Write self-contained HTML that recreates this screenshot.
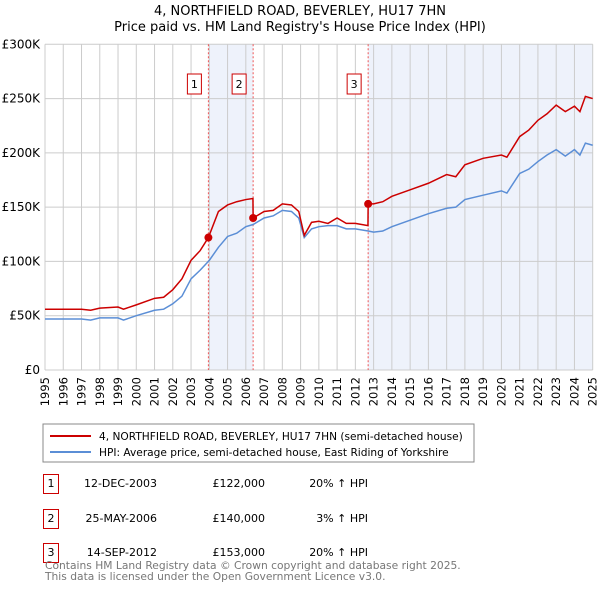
<!DOCTYPE html>
<html><head><meta charset="utf-8"><style>
body{margin:0;background:#fff;font-family:"Liberation Sans","DejaVu Sans",sans-serif;}
#wrap{position:relative;width:600px;height:590px;overflow:hidden;}
svg text{font-family:"DejaVu Sans","Liberation Sans",sans-serif;}
.row{position:absolute;font-family:"DejaVu Sans","Liberation Sans",sans-serif;font-size:11px;color:#000;white-space:nowrap;}
</style></head><body><div id="wrap">
<svg id="chart" width="600" height="590">
<text x="300" y="15" text-anchor="middle" font-size="13">4, NORTHFIELD ROAD, BEVERLEY, HU17 7HN</text>
<text x="300" y="31" text-anchor="middle" font-size="13">Price paid vs. HM Land Registry's House Price Index (HPI)</text>
<g id="g"></g>
<rect x="43" y="424" width="431" height="38" fill="#fff" stroke="#888"/>
<line x1="50" y1="436" x2="91" y2="436" stroke="#cc0000" stroke-width="2"/>
<text x="99" y="440" font-size="10.6">4, NORTHFIELD ROAD, BEVERLEY, HU17 7HN (semi-detached house)</text>
<line x1="50" y1="452" x2="91" y2="452" stroke="#5b8ed6" stroke-width="2"/>
<text x="99" y="456" font-size="10.6">HPI: Average price, semi-detached house, East Riding of Yorkshire</text>
</svg>
<div id="tbl"></div>
<div class="row" style="left:45px;top:560px;color:#777;line-height:11px;font-size:10.7px">Contains HM Land Registry data © Crown copyright and database right 2025.<br>This data is licensed under the Open Government Licence v3.0.</div>
</div>
<script>
const hpiYears=[1995,1996,1997,1997.5,1998,1999,1999.3,2000,2001,2001.5,2002,2002.5,2003,2003.5,2004,2004.5,2005,2005.5,2006,2006.4,2007,2007.5,2008,2008.5,2008.9,2009.2,2009.6,2010,2010.5,2011,2011.5,2012,2012.7,2013,2013.5,2014,2015,2016,2017,2017.5,2018,2019,2020,2020.3,2021,2021.5,2022,2022.5,2023,2023.5,2024,2024.3,2024.6,2025];
const hpiValues=[47,47,47,46,48,48,46,50,55,56,61,68,84,92,101,113,123,126,132,134,140,142,147,146,140,122,130,132,133,133,130,130,128,127,128,132,138,144,149,150,157,161,165,163,181,185,192,198,203,197,203,198,209,207];
const priceYears=[1995,1996,1997,1997.5,1998,1999,1999.3,2000,2001,2001.5,2002,2002.5,2003,2003.5,2003.95,2004.5,2005,2005.5,2006,2006.39,2006.4,2007,2007.5,2008,2008.5,2008.9,2009.2,2009.6,2010,2010.5,2011,2011.5,2012,2012.69,2012.7,2013,2013.5,2014,2015,2016,2017,2017.5,2018,2019,2020,2020.3,2021,2021.5,2022,2022.5,2023,2023.5,2024,2024.3,2024.6,2025];
const priceValues=[56,56,56,55,57,58,56,60,66,67,74,84,101,110,122,146,152,155,157,158,140,146,147,153,152,146,124,136,137,135,140,135,135,133,153,153,155,160,166,172,180,178,189,195,198,196,215,221,230,236,244,238,243,238,252,250];
const saleYears=[2003.95,2006.4,2012.7];
const saleValues=[122,140,153];
const saleLabels=["1","2","3"];
const saleDates=["12-DEC-2003","25-MAY-2006","14-SEP-2012"];
const salePrices=["£122,000","£140,000","£153,000"];
const saleHpi=["20% ↑ HPI","3% ↑ HPI","20% ↑ HPI"];
const yTicks=[0,50,100,150,200,250,300];
const yTickLabels=["£0","£50K","£100K","£150K","£200K","£250K","£300K"];
const xTicks=[1995,1996,1997,1998,1999,2000,2001,2002,2003,2004,2005,2006,2007,2008,2009,2010,2011,2012,2013,2014,2015,2016,2017,2018,2019,2020,2021,2022,2023,2024,2025];

const X0=45,X1=592.7,Y0=370,Y1=44.3;
const xs=y=>X0+(y-1995)*(X1-X0)/30;
const ys=v=>Y0-v*(Y0-Y1)/300;
const NS="http://www.w3.org/2000/svg";
const g=document.getElementById('g');
function mk(t,a){const e=document.createElementNS(NS,t);for(const k in a)e.setAttribute(k,a[k]);g.appendChild(e);return e;}
let e=mk('rect',{x:xs(saleYears[0]),y:Y1,width:xs(saleYears[1])-xs(saleYears[0]),height:Y0-Y1,fill:'#eef2fb'});


e=mk('rect',{x:xs(saleYears[2]),y:Y1,width:X1-xs(saleYears[2]),height:Y0-Y1,fill:'#eef2fb'});


xTicks.forEach(t=>{
 e=mk('line',{x1:xs(t),x2:xs(t),y1:Y1,y2:Y0,stroke:'#cccccc','stroke-width':1});
 
 
 const tx=xs(t)+4, ty=377;
 e=mk('text',{x:tx,y:ty,transform:'rotate(-90 '+tx+' '+ty+')','text-anchor':'end','font-size':11.5});
 e.textContent=t;
 
 
});
yTicks.forEach((t,i)=>{
 e=mk('line',{x1:X0,x2:X1,y1:ys(t),y2:ys(t),stroke:'#cccccc','stroke-width':1});
 
 
 e=mk('text',{x:40,y:ys(t)+4,'text-anchor':'end','font-size':12});
 e.textContent=yTickLabels[i];
 
 
});
saleYears.forEach((s,i)=>{
 e=mk('line',{x1:xs(s),x2:xs(s),y1:Y1,y2:Y0,stroke:'#ee5555','stroke-width':1,'stroke-dasharray':'2,2'});
 
 
 e=mk('rect',{x:xs(s)-21,y:74,width:14,height:20,fill:'#fff',stroke:'#cc0000'});
 
 
 e=mk('text',{x:xs(s)-14,y:88,'text-anchor':'middle','font-size':11});
 e.textContent=saleLabels[i];
 
 
});
e=mk('polyline',{points:hpiYears.map((y,i)=>xs(y)+','+ys(hpiValues[i])).join(' '),fill:'none',stroke:'#5b8ed6','stroke-width':1.5});


e=mk('polyline',{points:priceYears.map((y,i)=>xs(y)+','+ys(priceValues[i])).join(' '),fill:'none',stroke:'#cc0000','stroke-width':1.5});


saleYears.forEach((s,i)=>{
 e=mk('circle',{cx:xs(s),cy:ys(saleValues[i]),r:4,fill:'#cc0000'});
 
 
});
const tb=document.getElementById('tbl');
saleYears.forEach((s,i)=>{
 const top=474+i*34.5;
 const d=document.createElement('div');
 d.innerHTML=`<div class="row" style="left:43px;top:${top}px;width:14px;height:18px;border:1px solid #cc0000;text-align:center;line-height:18px">${saleLabels[i]}</div>
<div class="row" style="left:60px;top:${top+3}px;width:97px;text-align:right">${saleDates[i]}</div>
<div class="row" style="left:180px;top:${top+3}px;width:85px;text-align:right">${salePrices[i]}</div>
<div class="row" style="left:270px;top:${top+3}px;width:98px;text-align:right">${saleHpi[i]}</div>`;
 tb.appendChild(d);
});
</script>
</body></html>
